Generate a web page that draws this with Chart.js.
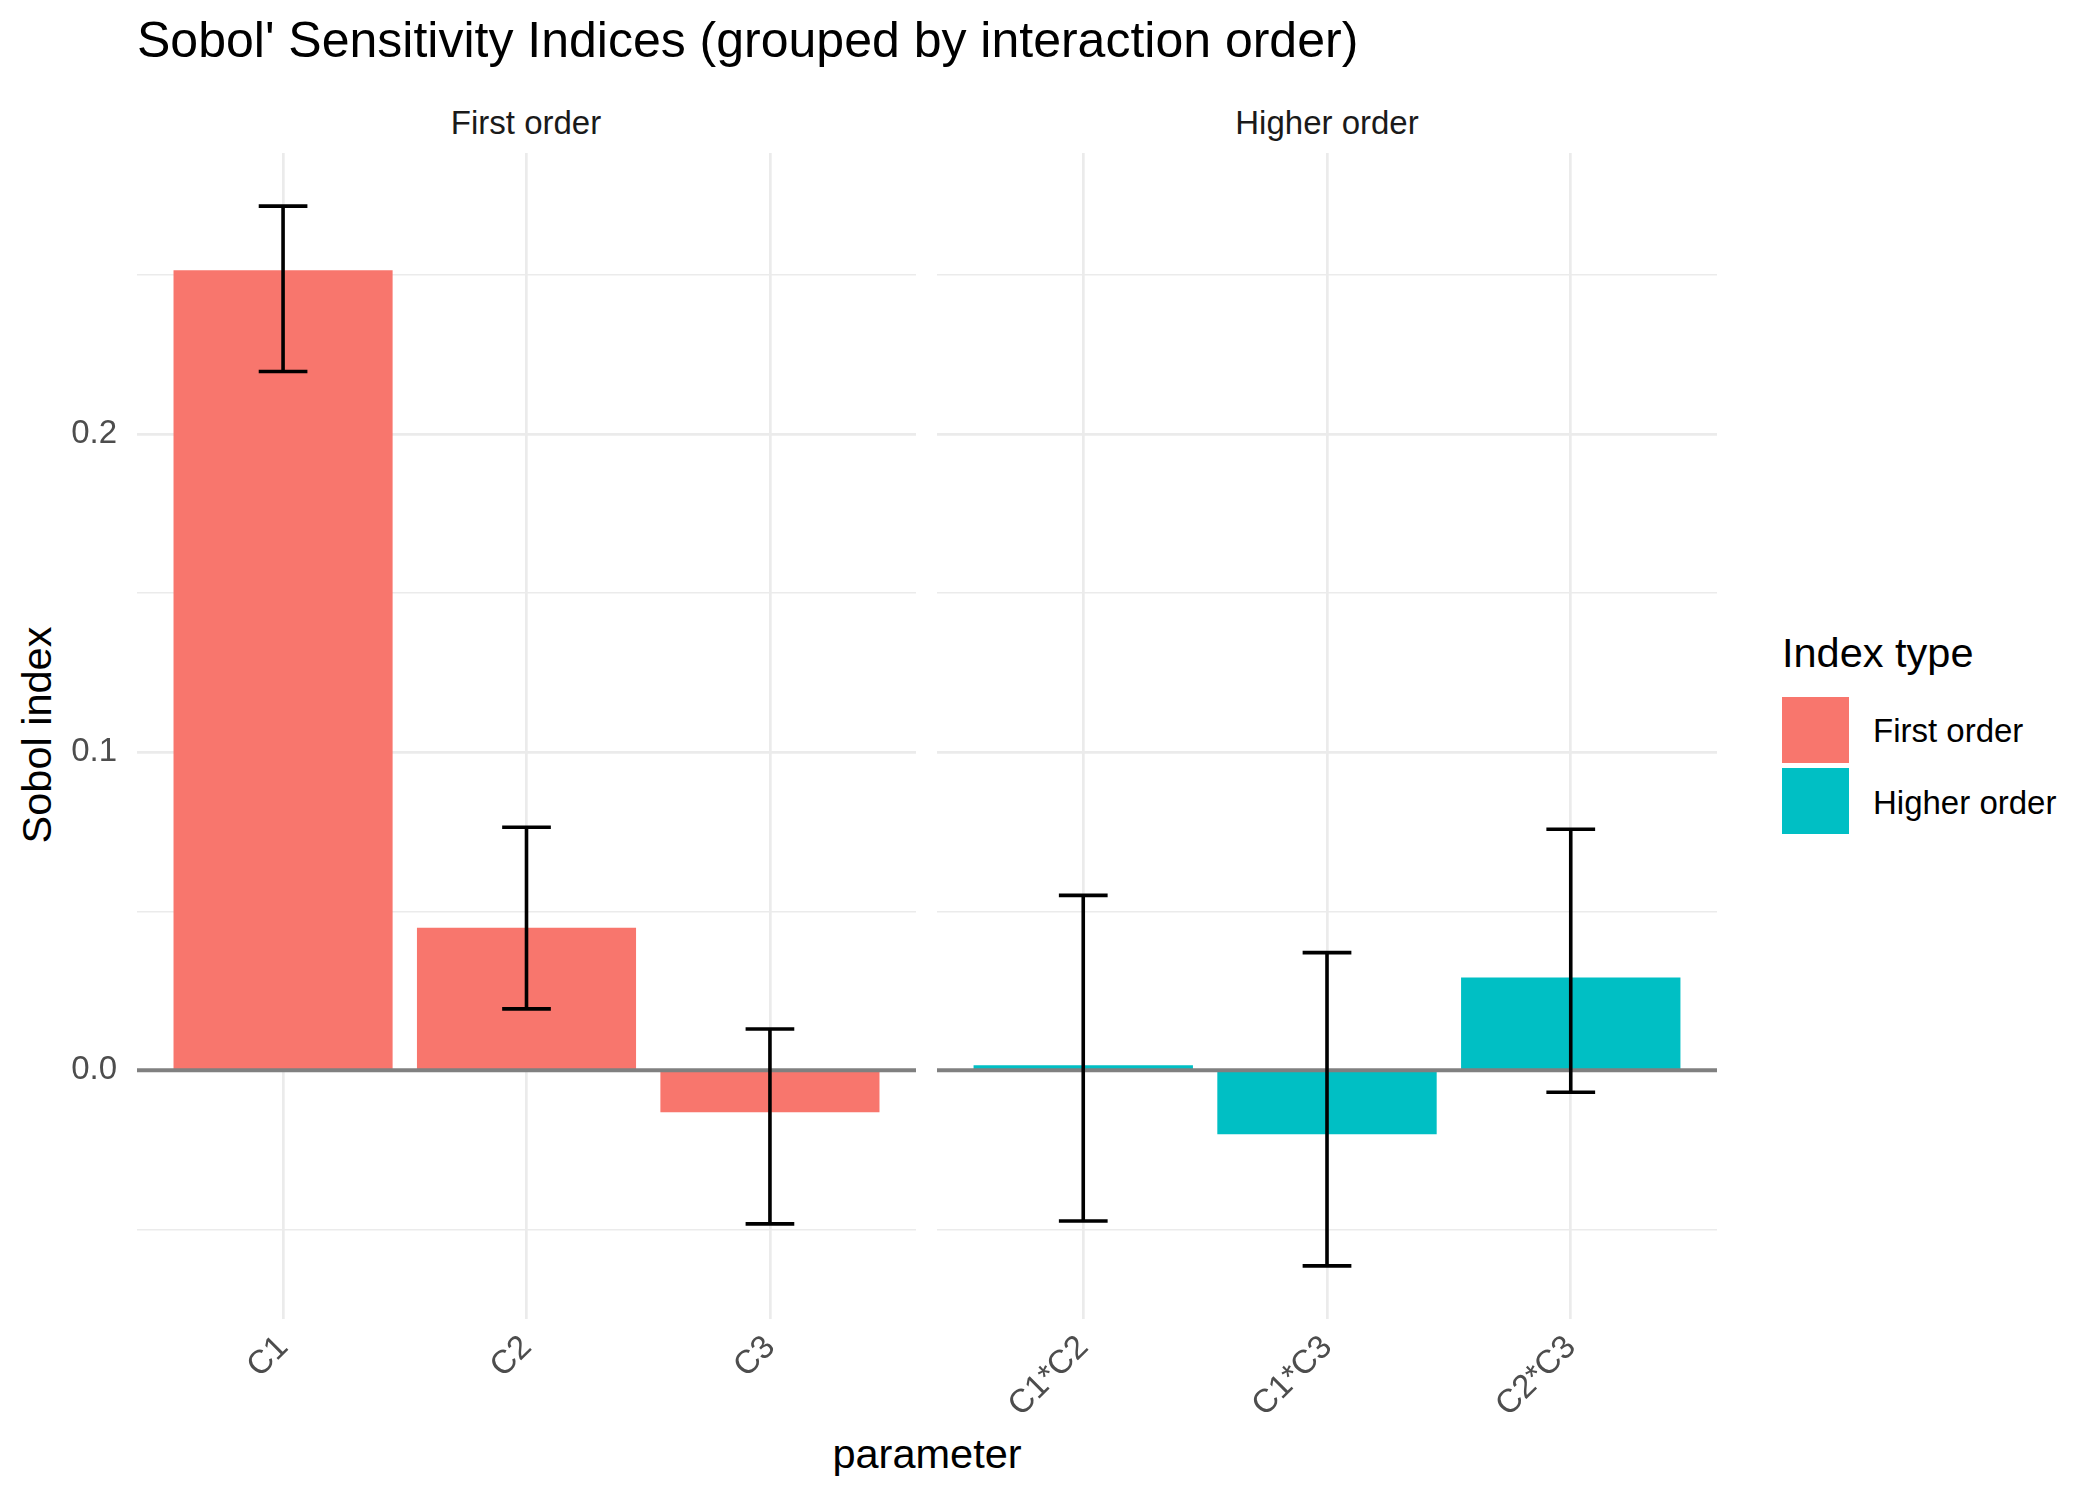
<!DOCTYPE html>
<html>
<head>
<meta charset="utf-8">
<script src="https://cdn.jsdelivr.net/npm/chart.js@4.4.1/dist/chart.umd.min.js"></script>
<style>
  html, body { margin: 0; padding: 0; background: #fff; }
  body { width: 2100px; height: 1500px; position: relative; overflow: hidden;
         font-family: "Liberation Sans", Arial, sans-serif; }
  .txt { position: absolute; line-height: 1; white-space: nowrap; color: #000; }
  .key { position: absolute; width: 67px; height: 66px; }
  canvas { position: absolute; }
</style>
</head>
<body>
<div class="txt" style="left:137px; top:40px; font-size:50px; transform:translateY(-50%);">Sobol' Sensitivity Indices (grouped by interaction order)</div>
<div class="txt" style="left:526px; top:122px; font-size:33px; color:#1A1A1A; transform:translate(-50%,-50%);">First order</div>
<div class="txt" style="left:1327px; top:122px; font-size:33px; color:#1A1A1A; transform:translate(-50%,-50%);">Higher order</div>
<div class="txt" style="left:37px; top:735px; font-size:41.5px; transform:translate(-50%,-50%) rotate(-90deg);">Sobol index</div>
<div class="txt" style="left:927px; top:1454px; font-size:41.5px; transform:translate(-50%,-50%);">parameter</div>

<div class="txt" style="left:1782px; top:653px; font-size:41.5px; transform:translateY(-50%);">Index type</div>
<div class="key" style="left:1782px; top:697px; background:#F8766D;"></div>
<div class="key" style="left:1782px; top:768px; background:#00BFC4;"></div>
<div class="txt" style="left:1873px; top:730px; font-size:33px; transform:translateY(-50%);">First order</div>
<div class="txt" style="left:1873px; top:802px; font-size:33px; transform:translateY(-50%);">Higher order</div>

<canvas id="firstChart" width="916" height="1300" style="left:0px; top:153px;"></canvas>
<canvas id="higherChart" width="780" height="1300" style="left:937px; top:153px;"></canvas>

<script>
// data
const firstLabels = ['C1', 'C2', 'C3'];
const firstValues = [0.2515, 0.0448, -0.0132];
const firstLower = [0.2197, 0.0193, -0.0483];
const firstUpper = [0.2717, 0.0764, 0.0130];

const higherLabels = ['C1*C2', 'C1*C3', 'C2*C3'];
const higherValues = [0.0016, -0.0201, 0.0292];
const higherLower = [-0.0474, -0.0615, -0.0069];
const higherUpper = [0.0550, 0.0370, 0.0758];

const yBreaks = [-0.05, 0, 0.05, 0.1, 0.15, 0.2, 0.25];
const yMajor = [0, 0.1, 0.2];
const yTickLabels = ['0.0', '0.1', '0.2'];

const Y_MIN = -0.0782, Y_MAX = 0.2884;
const tickFont = { family: '"Liberation Sans", Arial, sans-serif', size: 33 };

function isMajor(v) {
    return yMajor.some(m => Math.abs(m - v) < 1e-9);
}

// zero line + error bars, drawn over the bars
const errorBars = {
    id: 'errorBars',
    afterDatasetsDraw(chart) {
        const { ctx, chartArea, scales: { x, y } } = chart;
        const ds = chart.data.datasets[0];
        ctx.save();
        const y0 = y.getPixelForValue(0);
        ctx.strokeStyle = '#808080';
        ctx.lineWidth = 4;
        ctx.beginPath();
        ctx.moveTo(chartArea.left, y0);
        ctx.lineTo(chartArea.right, y0);
        ctx.stroke();

        ctx.strokeStyle = '#000';
        ctx.lineWidth = 3.6;
        ds.data.forEach((p, i) => {
            const xc = x.getPixelForValue(p.x);
            const xl = x.getPixelForValue(p.x - 0.1);
            const xr = x.getPixelForValue(p.x + 0.1);
            const yl = y.getPixelForValue(ds.lower[i]);
            const yh = y.getPixelForValue(ds.upper[i]);
            ctx.beginPath();
            ctx.moveTo(xc, yl); ctx.lineTo(xc, yh);
            ctx.moveTo(xl, yl); ctx.lineTo(xr, yl);
            ctx.moveTo(xl, yh); ctx.lineTo(xr, yh);
            ctx.stroke();
        });
        ctx.restore();
    }
};

function makePanel(id, labels, values, lower, upper, color, showY) {
    new Chart(document.getElementById(id), {
        type: 'bar',
        data: {
            datasets: [{
                data: values.map((v, i) => ({ x: i, y: v })),
                lower: lower,
                upper: upper,
                backgroundColor: color,
                borderWidth: 0,
                categoryPercentage: 0.9,
                barPercentage: 1.0
            }]
        },
        options: {
            responsive: false,
            animation: false,
            devicePixelRatio: 1,
            layout: { padding: 0, autoPadding: false },
            plugins: { legend: { display: false }, tooltip: { enabled: false } },
            scales: {
                x: {
                    type: 'linear',
                    min: -0.6,
                    max: labels.length - 0.4,
                    offset: false,
                    bounds: 'data',
                    afterBuildTicks: s => { s.ticks = labels.map((l, i) => ({ value: i })); },
                    afterFit: s => {
                        s.height = 134;
                        s.paddingLeft = 0; s.paddingRight = 0;
                        s.paddingTop = 0; s.paddingBottom = 0;
                    },
                    grid: { offset: false, color: '#EBEBEB', lineWidth: 2.7, drawTicks: false },
                    border: { display: false },
                    ticks: {
                        autoSkip: false,
                        minRotation: 45,
                        maxRotation: 45,
                        padding: 9,
                        color: '#4D4D4D',
                        font: tickFont,
                        callback: v => labels[v]
                    }
                },
                y: {
                    type: 'linear',
                    min: Y_MIN,
                    max: Y_MAX,
                    bounds: 'data',
                    afterBuildTicks: s => { s.ticks = yBreaks.map(v => ({ value: v })); },
                    afterFit: s => {
                        s.width = showY ? 137 : 0;
                        s.paddingLeft = 0; s.paddingRight = 0;
                        s.paddingTop = 0; s.paddingBottom = 0;
                    },
                    grid: {
                        color: '#EBEBEB',
                        lineWidth: c => isMajor(c.tick.value) ? 2.7 : 1.4,
                        drawTicks: false
                    },
                    border: { display: false },
                    ticks: {
                        display: showY,
                        padding: 20,
                        color: '#4D4D4D',
                        font: tickFont,
                        callback: v => {
                            const k = yMajor.findIndex(m => Math.abs(m - v) < 1e-9);
                            return k >= 0 ? yTickLabels[k] : '';
                        }
                    }
                }
            }
        },
        plugins: [errorBars]
    });
}

document.addEventListener('DOMContentLoaded', () => {
    makePanel('firstChart', firstLabels, firstValues, firstLower, firstUpper, '#F8766D', true);
    makePanel('higherChart', higherLabels, higherValues, higherLower, higherUpper, '#00BFC4', false);
});
</script>
</body>
</html>
